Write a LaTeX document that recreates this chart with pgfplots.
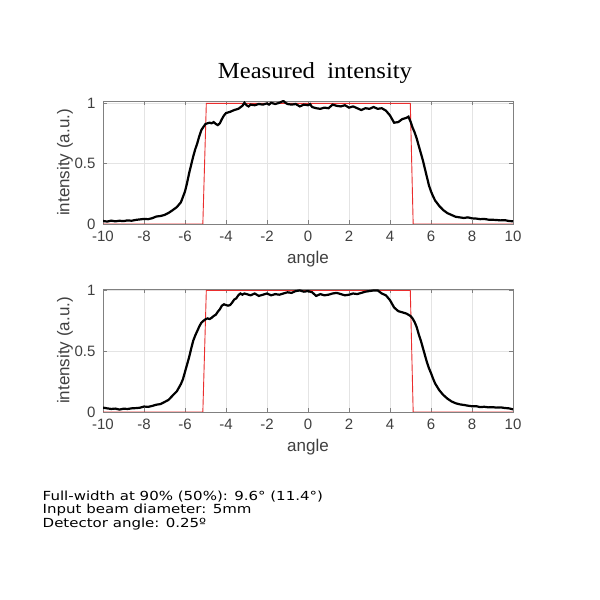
\documentclass[border=0pt]{standalone}
\usepackage{pgfplots}
\pgfplotsset{compat=1.18}
\usepackage{fontspec}
\setmainfont{Liberation Sans}
\newfontfamily\titlefont[FakeStretch=1.07]{Liberation Serif}
\newfontfamily\notefont[FakeStretch=1.2]{DejaVu Sans}
\definecolor{axgray}{RGB}{128,128,128}
\definecolor{ticktext}{RGB}{64,64,64}
\definecolor{gridgray}{RGB}{228,228,228}
\definecolor{redline}{RGB}{235,45,45}

\pgfplotstableread{
x y
-10.0 0.025
-9.8 0.020
-9.6 0.028
-9.4 0.022
-9.2 0.027
-9.0 0.024
-8.8 0.030
-8.6 0.027
-8.4 0.034
-8.2 0.038
-8.0 0.042
-7.8 0.040
-7.6 0.048
-7.4 0.062
-7.2 0.066
-7.0 0.075
-6.8 0.092
-6.6 0.115
-6.4 0.140
-6.2 0.180
-6.0 0.270
-5.9 0.340
-5.8 0.420
-5.7 0.490
-5.6 0.560
-5.5 0.620
-5.4 0.670
-5.3 0.730
-5.2 0.780
-5.1 0.805
-5.0 0.830
-4.9 0.835
-4.8 0.840
-4.7 0.835
-4.6 0.845
-4.5 0.830
-4.4 0.820
-4.3 0.835
-4.2 0.870
-4.1 0.900
-4.0 0.920
-3.8 0.930
-3.6 0.945
-3.4 0.955
-3.2 0.980
-3.1 1.005
-3.0 0.985
-2.9 0.975
-2.8 0.990
-2.6 0.985
-2.4 0.995
-2.2 0.990
-2.0 1.000
-1.9 0.990
-1.8 1.005
-1.6 0.995
-1.4 1.005
-1.2 1.020
-1.1 1.005
-1.0 0.995
-0.8 0.990
-0.6 0.995
-0.4 0.975
-0.2 0.990
0.0 0.985
0.1 0.995
0.2 0.970
0.4 0.960
0.6 0.955
0.8 0.965
1.0 0.960
1.2 0.990
1.4 0.980
1.6 0.975
1.8 0.985
2.0 0.965
2.2 0.975
2.4 0.960
2.6 0.945
2.8 0.960
3.0 0.955
3.2 0.970
3.4 0.955
3.6 0.960
3.8 0.940
4.0 0.900
4.2 0.840
4.4 0.845
4.6 0.870
4.8 0.880
4.9 0.890
5.0 0.850
5.1 0.800
5.2 0.760
5.3 0.710
5.4 0.650
5.5 0.590
5.6 0.530
5.7 0.460
5.8 0.390
5.9 0.320
6.0 0.270
6.1 0.230
6.2 0.195
6.4 0.150
6.6 0.115
6.8 0.090
7.0 0.075
7.2 0.060
7.4 0.055
7.6 0.050
7.8 0.055
8.0 0.047
8.2 0.045
8.4 0.040
8.6 0.042
8.8 0.036
9.0 0.035
9.2 0.033
9.4 0.030
9.6 0.032
9.8 0.025
10.0 0.022
}\toptable

\pgfplotstableread{
x y
-10.0 0.036
-9.8 0.030
-9.6 0.025
-9.4 0.028
-9.2 0.020
-9.0 0.027
-8.8 0.025
-8.6 0.030
-8.4 0.032
-8.2 0.035
-8.0 0.045
-7.8 0.042
-7.6 0.050
-7.4 0.060
-7.2 0.065
-7.0 0.082
-6.8 0.100
-6.6 0.136
-6.4 0.170
-6.2 0.230
-6.1 0.270
-6.0 0.330
-5.9 0.390
-5.8 0.450
-5.7 0.520
-5.6 0.586
-5.5 0.630
-5.4 0.667
-5.3 0.705
-5.2 0.735
-5.1 0.750
-5.0 0.763
-4.9 0.770
-4.8 0.765
-4.7 0.775
-4.6 0.790
-4.5 0.800
-4.4 0.825
-4.3 0.845
-4.2 0.875
-4.1 0.886
-4.0 0.880
-3.9 0.875
-3.8 0.880
-3.7 0.900
-3.6 0.925
-3.5 0.935
-3.4 0.960
-3.3 0.975
-3.2 0.965
-3.1 0.975
-3.0 0.970
-2.8 0.960
-2.6 0.975
-2.4 0.955
-2.2 0.965
-2.0 0.975
-1.8 0.960
-1.6 0.970
-1.4 0.965
-1.2 0.975
-1.0 0.985
-0.8 0.980
-0.6 0.995
-0.4 1.000
-0.2 0.990
0.0 0.995
0.2 0.985
0.4 0.955
0.6 0.970
0.8 0.960
1.0 0.965
1.2 0.975
1.4 0.980
1.6 0.970
1.8 0.960
2.0 0.965
2.2 0.975
2.4 0.970
2.6 0.980
2.8 0.990
3.0 0.995
3.2 1.000
3.4 1.000
3.6 0.975
3.8 0.960
4.0 0.920
4.1 0.890
4.2 0.860
4.4 0.830
4.6 0.820
4.8 0.810
5.0 0.790
5.1 0.770
5.2 0.740
5.3 0.700
5.4 0.640
5.5 0.590
5.6 0.530
5.7 0.470
5.8 0.410
5.9 0.360
6.0 0.320
6.1 0.275
6.2 0.235
6.4 0.180
6.6 0.140
6.8 0.110
7.0 0.087
7.2 0.072
7.4 0.063
7.6 0.058
7.8 0.052
8.0 0.047
8.2 0.048
8.4 0.040
8.6 0.043
8.8 0.038
9.0 0.040
9.2 0.036
9.4 0.038
9.6 0.033
9.8 0.030
10.0 0.022
}\bottable

\pgfplotstableread{
x y
-10 0
-5.13 0
-4.96 1
4.99 1
5.13 0
10 0
}\redtable

\pgfplotsset{
  myaxis/.style={
    scale only axis,
    width=410bp, height=123bp,
    xmin=-10, xmax=10, ymin=0,
    xtick={-10,-8,-6,-4,-2,0,2,4,6,8,10},
    xticklabels={-10,-8,-6,-4,-2,0,2,4,6,8,10},
    ytick={0,0.5,1},
    yticklabels={0,0.5,1},
    grid=major,
    major grid style={draw=gridgray, line width=0.6bp},
    axis line style={draw=axgray, line width=0.8bp},
    tick style={draw=axgray, line width=0.8bp},
    tick align=inside,
    major tick length=4bp,
    xtick pos=both, ytick pos=both,
    tick label style={font=\fontsize{15bp}{18bp}\selectfont, text=ticktext},
    xticklabel style={yshift=-4bp},
    yticklabel style={xshift=-4bp},
    label style={font=\fontsize{17bp}{20bp}\selectfont, text=ticktext},
    xlabel={angle},
    ylabel={intensity (a.u.)},
    xlabel style={at={(axis description cs:0.5,0)}, anchor=center, yshift=-35bp},
    ylabel style={at={(axis description cs:0,0.5)}, anchor=center, yshift=38bp},
  }
}

\begin{document}
\begin{tikzpicture}[x=1bp,y=1bp]
\fill[white] (0bp,0bp) rectangle (600bp,600bp);

\begin{axis}[myaxis, at={(103bp,376bp)}, anchor=south west, ymax=1.02]
\addplot[draw=redline, line width=0.9bp] table[x=x,y=y] {\redtable};
\addplot[black, line width=2.2bp] table[x=x,y=y] {\toptable};
\end{axis}

\begin{axis}[myaxis, at={(103bp,188bp)}, anchor=south west, ymax=1.012]
\addplot[draw=redline, line width=0.9bp] table[x=x,y=y] {\redtable};
\addplot[black, line width=2.2bp] table[x=x,y=y] {\bottable};
\end{axis}

\node[anchor=base, inner sep=0pt] at (315bp,521.7bp) {\titlefont\fontsize{23bp}{28bp}\selectfont Measured\ \ intensity};

\node[anchor=base west, inner sep=0pt] at (42.5bp,99bp) {\notefont\fontsize{12.5bp}{15bp}\selectfont Full-width at 90\% (50\%): 9.6° (11.4°)};
\node[anchor=base west, inner sep=0pt] at (42.5bp,86bp) {\notefont\fontsize{12.5bp}{15bp}\selectfont Input beam diameter: 5mm};
\node[anchor=base west, inner sep=0pt] at (42.5bp,72.7bp) {\notefont\fontsize{12.5bp}{15bp}\selectfont Detector angle: 0.25º};
\end{tikzpicture}
\end{document}
